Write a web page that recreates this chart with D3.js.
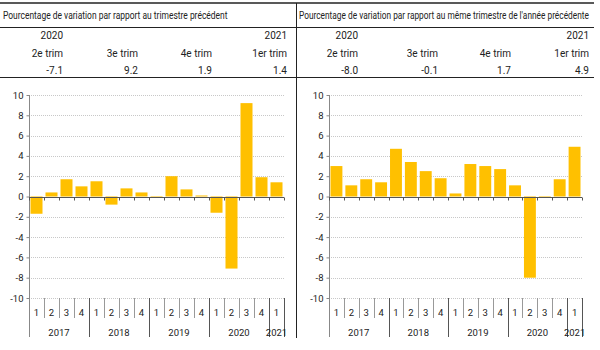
<!DOCTYPE html>
<html>
<head>
<meta charset="utf-8">
<script src="https://cdn.jsdelivr.net/npm/d3@7"></script>
<style>
  html, body { margin: 0; padding: 0; background: #fff; }
  svg { display: block; }
</style>
</head>
<body>
<div id="chart"></div>
<script>
// period categories (2017 Q1 .. 2021 Q1)
var periodYear = ["2017","2017","2017","2017","2018","2018","2018","2018","2019","2019","2019","2019","2020","2020","2020","2020","2021"];
var periodQuarter = ["1","2","3","4","1","2","3","4","1","2","3","4","1","2","3","4","1"];
// quarter-over-quarter % change
var qoqValues = [-1.7, 0.4, 1.7, 1.0, 1.5, -0.8, 0.8, 0.4, -0.1, 2.0, 0.7, 0.1, -1.6, -7.1, 9.2, 1.9, 1.4];
// same quarter of previous year % change
var yoyValues = [3.0, 1.1, 1.7, 1.4, 4.7, 3.4, 2.5, 1.8, 0.3, 3.2, 3.0, 2.7, 1.1, -8.0, -0.1, 1.7, 4.9];
var yTicks = [-10, -8, -6, -4, -2, 0, 2, 4, 6, 8, 10];

// header table
var headYears = ["2020", "", "", "2021"];
var headQuarters = ["2e trim", "3e trim", "4e trim", "1er trim"];
var qoqHead = ["-7.1", "9.2", "1.9", "1.4"];
var yoyHead = ["-8.0", "-0.1", "1.7", "4.9"];
var titles = ["Pourcentage de variation par rapport au trimestre précédent",
              "Pourcentage de variation par rapport au même trimestre de l'année précédente"];

var W = 600, H = 350;
var FONT = "Roboto, 'Liberation Sans', sans-serif";
var INK = "#222", GOLD = "#FFC000";

var svg = d3.select("#chart").append("svg").attr("width", W).attr("height", H)
  .attr("font-family", FONT);

// table rules
svg.append("line").attr("x1", 0).attr("x2", 594).attr("y1", 3).attr("y2", 3).attr("stroke", INK).attr("stroke-width", 1.5);
[27, 77].forEach(function (yy) {
  svg.append("line").attr("x1", 0).attr("x2", 594).attr("y1", yy + .5).attr("y2", yy + .5).attr("stroke", INK);
});
svg.append("line").attr("x1", 296.5).attr("x2", 296.5).attr("y1", 3).attr("y2", 338).attr("stroke", INK);

var panels = [
  { x0: 3, titleW: 225, colRight: [63, 138, 212, 287], head: qoqHead, values: qoqValues, px0: 29, px1: 284 },
  { x0: 299, titleW: 290, colRight: [358, 438, 511, 589], head: yoyHead, values: yoyValues, px0: 329, px1: 582 }
];

panels.forEach(function (p, i) {
  var g = svg.append("g");
  // condensed title: squeeze horizontally to the reference width
  var tt = g.append("text").attr("font-size", 10.5).attr("fill", INK).text(titles[i]);
  var natural = tt.node().getComputedTextLength();
  tt.attr("transform", "translate(" + p.x0 + ",18.5) scale(" + (p.titleW / natural) + ",1)");

  var rows = [headYears, headQuarters, p.head], rowY = [38.5, 57, 73.5];
  rows.forEach(function (row, r) {
    g.selectAll(null).data(row).enter().append("text")
      .attr("x", function (d, k) { return p.colRight[k]; }).attr("y", rowY[r])
      .attr("text-anchor", "end").attr("font-size", 10).attr("fill", INK)
      .text(function (d) { return d; });
  });

  // chart
  var idx = d3.range(periodYear.length);
  var x = d3.scaleBand().domain(idx).range([p.px0, p.px1]).paddingInner(0.2).paddingOuter(0.1);
  var step = x.step();
  var y = d3.scaleLinear().domain([-10, 10]).range([298, 95]);

  // dotted gridlines
  g.selectAll(null).data(yTicks).enter().append("line")
    .attr("x1", p.px0).attr("x2", p.px1)
    .attr("y1", function (d) { return Math.round(y(d)) + .5; }).attr("y2", function (d) { return Math.round(y(d)) + .5; })
    .attr("stroke", "#c8c8c8").attr("stroke-dasharray", "1 1");

  // bars
  g.selectAll(null).data(p.values).enter().append("rect")
    .attr("x", function (d, k) { return x(k); }).attr("width", x.bandwidth())
    .attr("y", function (d) { return y(Math.max(0, d)); })
    .attr("height", function (d) { return Math.abs(y(d) - y(0)); })
    .attr("fill", GOLD);

  // y axis
  var ya = g.append("g").attr("transform", "translate(" + (p.px0 + .5) + ",0)")
    .call(d3.axisLeft(y).tickValues(yTicks).tickSize(3).tickPadding(3).tickFormat(function (d) { return String(d); }));
  ya.select(".domain").remove();
  ya.selectAll("line").attr("stroke", "#888");
  ya.selectAll("text").attr("font-family", FONT).attr("font-size", 9.5).attr("fill", INK);
  g.append("line").attr("x1", p.px0 + .5).attr("x2", p.px0 + .5).attr("y1", y(10)).attr("y2", 337).attr("stroke", "#888");

  // zero line and category ticks
  var y0 = Math.round(y(0)) + .5;
  g.append("line").attr("x1", p.px0).attr("x2", p.px1).attr("y1", y0).attr("y2", y0).attr("stroke", "#555");
  var bounds = d3.range(periodYear.length + 1).map(function (k) { return p.px0 + k * step; });
  g.selectAll(null).data(bounds).enter().append("line")
    .attr("x1", function (d) { return Math.round(d) + .5; }).attr("x2", function (d) { return Math.round(d) + .5; })
    .attr("y1", y0).attr("y2", y0 + 3).attr("stroke", "#555");

  // category separators below the plot
  function isYearEdge(j) { return j === periodYear.length || periodYear[j] !== periodYear[j - 1]; }
  g.selectAll(null).data(bounds.slice(1)).enter().append("line")
    .attr("x1", function (d) { return Math.round(d) + .5; }).attr("x2", function (d) { return Math.round(d) + .5; })
    .attr("y1", 298).attr("y2", function (d, k) { return isYearEdge(k + 1) ? 337 : 318; })
    .attr("stroke", function (d, k) { return isYearEdge(k + 1) ? "#555" : "#999"; });

  // quarter labels
  g.selectAll(null).data(periodQuarter).enter().append("text")
    .attr("x", function (d, k) { return p.px0 + (k + .5) * step; }).attr("y", 315.5)
    .attr("text-anchor", "middle").attr("font-size", 9.5).attr("fill", INK).text(function (d) { return d; });

  // year labels
  var years = Array.from(new Set(periodYear));
  g.selectAll(null).data(years).enter().append("text")
    .attr("x", function (yr) {
      var ks = idx.filter(function (k) { return periodYear[k] === yr; });
      return p.px0 + (ks[0] + ks.length / 2) * step;
    }).attr("y", 335.5)
    .attr("text-anchor", "middle").attr("font-size", 9.5).attr("fill", INK).text(function (d) { return d; });
});
</script>
</body>
</html>
